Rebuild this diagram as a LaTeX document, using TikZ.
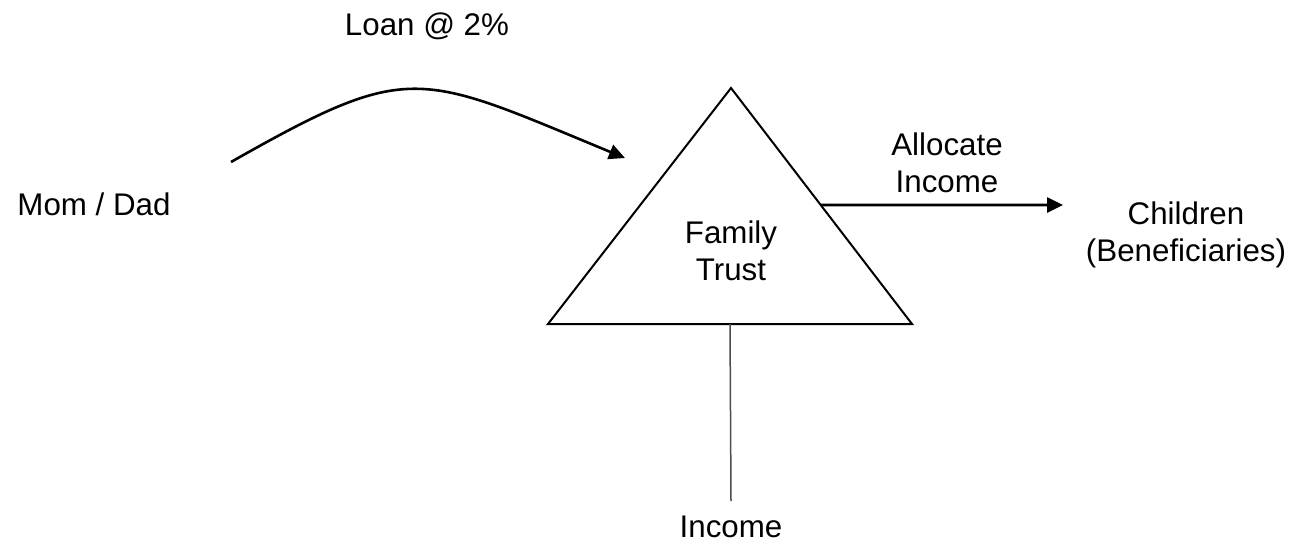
\documentclass[tikz,border=0pt]{standalone}
\usepackage{fontspec}
\setmainfont{Liberation Sans}
\usetikzlibrary{arrows.meta,calc}
\begin{document}
\begin{tikzpicture}[x=1pt,y=-1pt,
  lbl/.style={font=\fontsize{31.3}{37.5}\selectfont, align=center, inner sep=0pt},
  tri/.style={line width=2pt, line join=miter},
  flow/.style={line width=2.6pt, -{Triangle[length=16pt,width=15pt]}},
  stem/.style={line width=1.5pt, draw=black!70}]
\useasboundingbox (0,0) rectangle (1292,544);
\coordinate (apex) at (731,88);
\coordinate (bl) at (548,324);
\coordinate (br) at (912,324);
\draw[tri] (apex) -- (bl) -- (br) -- cycle;
\node[lbl] (loan) at (427,26) {Loan @ 2\%};
\node[lbl] (mom) at (94,204) {Mom / Dad};
\node[lbl] (trust) at (731,251) {Family\\Trust};
\node[lbl] (alloc) at (947,163) {Allocate\\Income};
\node[lbl] (children) at (1186,235) {Children\\(Beneficiaries)};
\node[lbl] (income) at (731,527) {Income};
\coordinate (cstart) at (231,162);
\coordinate (cend) at (625,158);
\draw[flow] (cstart) .. controls (411,60) and (417,72) .. (cend);
\coordinate (astart) at ($(apex)!0.4958!(br)$);
\coordinate (aend) at (1063,205);
\draw[flow] (astart) -- (aend);
\coordinate (stemtop) at ($(bl)!0.5!(br)$);
\coordinate (stemend) at (731,501);
\draw[stem] (stemtop) -- (stemend);
\end{tikzpicture}
\end{document}
